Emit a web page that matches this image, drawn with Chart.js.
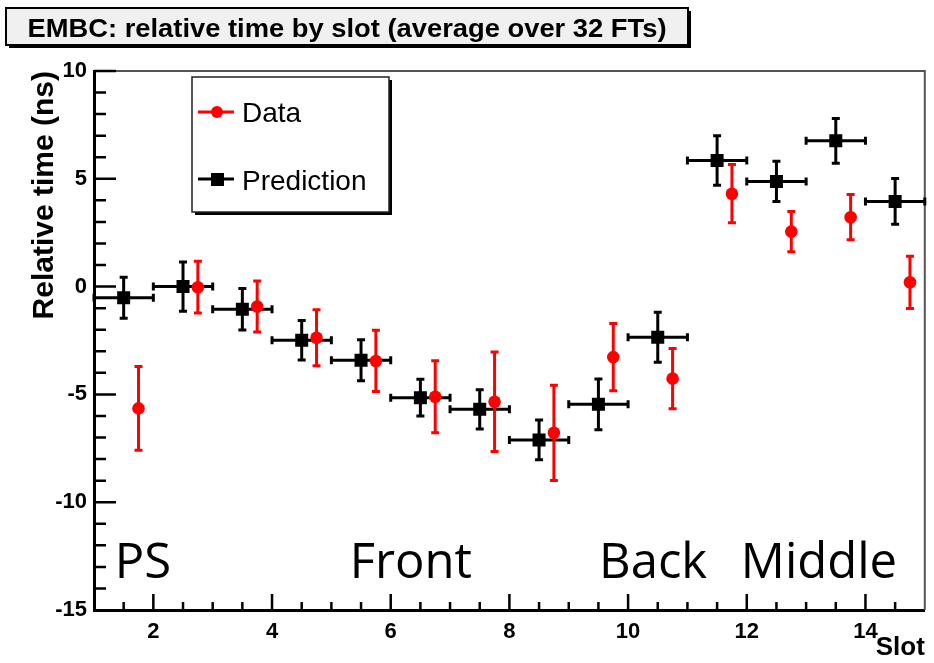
<!DOCTYPE html>
<html>
<head>
<meta charset="utf-8">
<script src="https://cdn.jsdelivr.net/npm/chart.js@4.4.1/dist/chart.umd.min.js"></script>
<style>
  html, body { margin: 0; padding: 0; background: #fff; }
</style>
</head>
<body>
<canvas id="slotChart" width="934" height="663"></canvas>
<script>
// values (ns)
titleText = 'EMBC: relative time by slot (average over 32 FTs)'

predSlots = [1.5, 2.5, 3.5, 4.5, 5.5, 6.5, 7.5, 8.5, 9.5, 10.5, 11.5, 12.5, 13.5, 14.5]
predTime  = [-0.52, 0.0, -1.05, -2.49, -3.42, -5.15, -5.69, -7.11, -5.46, -2.35, 5.85, 4.88, 6.76, 3.95]
predErr   = [0.95, 1.14, 0.96, 0.92, 0.95, 0.85, 0.91, 0.92, 1.18, 1.16, 1.15, 0.93, 1.04, 1.06]
predSlotErr = 0.5

dataSlots = [1.75, 2.75, 3.75, 4.75, 5.75, 6.75, 7.75, 8.75, 9.75, 10.75, 11.75, 12.75, 13.75, 14.75]
dataTime  = [-5.65, -0.03, -0.92, -2.37, -3.45, -5.11, -5.34, -6.78, -3.27, -4.27, 4.31, 2.55, 3.22, 0.2]
dataErr   = [1.94, 1.2, 1.18, 1.3, 1.42, 1.67, 2.31, 2.21, 1.56, 1.4, 1.35, 0.93, 1.05, 1.21]

xTickLabels = [2, 4, 6, 8, 10, 12, 14]
yTickLabels = [-15, -10, -5, 0, 5, 10]

regionNames = ['PS', 'Front', 'Back', 'Middle']

// ROOT style frame, inward ticks and error bars
rootFrame = {
  id: 'rootFrame',
  beforeDatasetsDraw(chart) {
    var ctx = chart.ctx, a = chart.chartArea, x = chart.scales.x, y = chart.scales.y;
    ctx.save();
    ctx.strokeStyle = '#555';
    ctx.lineWidth = 2;
    ctx.beginPath();
    ctx.moveTo(a.left, a.top); ctx.lineTo(a.right, a.top); ctx.lineTo(a.right, a.bottom);
    ctx.stroke();

    ctx.strokeStyle = '#000';
    ctx.lineWidth = 2.5;
    ctx.beginPath();
    for (var v = 1.5; v < 15; v += 0.5) {
      var px = x.getPixelForValue(v);
      var len = (v % 2 === 0) ? 16 : 8;
      ctx.moveTo(px, a.bottom); ctx.lineTo(px, a.bottom - len);
    }
    for (var w = -14; w < 10; w++) {
      var py = y.getPixelForValue(w);
      var l2 = (w % 5 === 0) ? 22 : 12;
      ctx.moveTo(a.left, py); ctx.lineTo(a.left + l2, py);
    }
    ctx.moveTo(a.left, a.top); ctx.lineTo(a.left + 22, a.top);
    ctx.stroke();

    drawBars(ctx, x, y, predSlots, predTime, predErr, predSlotErr, '#000');
    drawBars(ctx, x, y, dataSlots, dataTime, dataErr, 0, '#f00');
    ctx.restore();
  },
  afterDraw(chart) {
    var ctx = chart.ctx, a = chart.chartArea, x = chart.scales.x, y = chart.scales.y;
    ctx.save();

    // title box
    ctx.fillStyle = '#000';
    ctx.fillRect(9, 11, 682, 37);
    ctx.fillStyle = '#f0f0f0';
    ctx.strokeStyle = '#000';
    ctx.lineWidth = 2;
    ctx.fillRect(6, 8, 682, 37);
    ctx.strokeRect(6, 8, 682, 37);
    ctx.fillStyle = '#000';
    ctx.font = 'bold 25px "Liberation Sans", Arial, sans-serif';
    ctx.textBaseline = 'middle';
    ctx.textAlign = 'center';
    var tw = ctx.measureText(titleText).width;
    ctx.translate(347, 30);
    ctx.scale(639 / tw, 1);
    ctx.fillText(titleText, 0, 0);
    ctx.setTransform(1, 0, 0, 1, 0, 0);

    // legend
    ctx.fillStyle = '#000';
    ctx.fillRect(195, 80, 197, 135);
    ctx.fillStyle = '#fff';
    ctx.fillRect(192, 77, 197, 135);
    ctx.lineWidth = 1.5;
    ctx.strokeStyle = '#222';
    ctx.strokeRect(192, 77, 197, 135);
    ctx.lineWidth = 3;
    ctx.strokeStyle = '#f00';
    ctx.beginPath(); ctx.moveTo(198, 112); ctx.lineTo(234, 112); ctx.stroke();
    ctx.fillStyle = '#f00';
    ctx.beginPath(); ctx.arc(217, 112, 6, 0, Math.PI * 2); ctx.fill();
    ctx.strokeStyle = '#000';
    ctx.beginPath(); ctx.moveTo(198, 179); ctx.lineTo(234, 179); ctx.stroke();
    ctx.fillStyle = '#000';
    ctx.fillRect(211, 173, 13, 13);
    ctx.font = '28px "Liberation Sans", Arial, sans-serif';
    ctx.textAlign = 'left';
    ctx.textBaseline = 'middle';
    ctx.fillText('Data', 242, 114);
    ctx.fillText('Prediction', 242, 182);

    // calorimeter layer names
    var anchors = [1.35, 5.31, 9.51, 11.9];
    ctx.font = '49px "Open Sans", sans-serif';
    ctx.textBaseline = 'alphabetic';
    regionNames.forEach(function (name, i) {
      ctx.fillText(name, x.getPixelForValue(anchors[i]), y.getPixelForValue(-13.5));
    });
    ctx.restore();
  }
}

function drawBars(ctx, x, y, xs, ys, errs, xerr, color) {
  ctx.strokeStyle = color;
  ctx.lineWidth = 3;
  ctx.beginPath();
  xs.forEach(function (xv, i) {
    var px = x.getPixelForValue(xv);
    var top = y.getPixelForValue(ys[i] + errs[i]);
    var bot = y.getPixelForValue(ys[i] - errs[i]);
    var py = y.getPixelForValue(ys[i]);
    ctx.moveTo(px, top); ctx.lineTo(px, bot);
    ctx.moveTo(px - 4, top); ctx.lineTo(px + 4, top);
    ctx.moveTo(px - 4, bot); ctx.lineTo(px + 4, bot);
    if (xerr) {
      var l = x.getPixelForValue(xv - xerr), r = x.getPixelForValue(xv + xerr);
      ctx.moveTo(l, py); ctx.lineTo(r, py);
      ctx.moveTo(l, py - 4); ctx.lineTo(l, py + 4);
      ctx.moveTo(r, py - 4); ctx.lineTo(r, py + 4);
    }
  });
  ctx.stroke();
}

tickFont = { family: '"Liberation Sans", Arial, sans-serif', size: 22, weight: 'bold' }

config = {
  type: 'scatter',
  data: {
    datasets: [{
      label: 'Data',
      data: dataSlots.map(function (s, i) { return { x: s, y: dataTime[i] }; }),
      pointStyle: 'circle',
      pointRadius: 6.3,
      pointBorderWidth: 0,
      backgroundColor: '#f00',
      borderColor: '#f00'
    }, {
      label: 'Prediction',
      data: predSlots.map(function (s, i) { return { x: s, y: predTime[i] }; }),
      pointStyle: 'rect',
      pointRadius: 9.2,
      pointBorderWidth: 0,
      backgroundColor: '#000',
      borderColor: '#000'
    }]
  },
  options: {
    responsive: false,
    animation: false,
    devicePixelRatio: 1,
    layout: { padding: { top: 71, right: 4, left: 0, bottom: 0 } },
    plugins: { legend: { display: false }, tooltip: { enabled: false } },
    scales: {
      x: {
        type: 'linear', min: 1, max: 15,
        afterBuildTicks: function (s) { s.ticks = xTickLabels.map(function (v) { return { value: v }; }); },
        afterFit: function (s) { s.height = 53; },
        grid: { drawOnChartArea: false, drawTicks: false },
        border: { color: '#000', width: 3 },
        ticks: { color: '#000', font: tickFont, padding: 9, maxRotation: 0, autoSkip: false },
        title: { display: true, text: 'Slot', align: 'end', color: '#000',
                 font: { family: '"Liberation Sans", Arial, sans-serif', size: 26, weight: 'bold' },
                 padding: { top: 0, bottom: 0 } }
      },
      y: {
        type: 'linear', min: -15, max: 10,
        afterBuildTicks: function (s) { s.ticks = yTickLabels.map(function (v) { return { value: v }; }); },
        afterFit: function (s) { s.width = 94; },
        grid: { drawOnChartArea: false, drawTicks: false },
        border: { color: '#000', width: 3 },
        ticks: { color: '#000', font: tickFont, padding: 7 },
        title: { display: true, text: 'Relative time (ns)', align: 'end', color: '#000',
                 font: { family: '"Liberation Sans", Arial, sans-serif', size: 30, weight: 'bold' },
                 padding: { top: 27, bottom: 0 } }
      }
    }
  },
  plugins: [rootFrame]
};

var slotChart = new Chart(document.getElementById('slotChart'), config);
</script>
</body>
</html>
